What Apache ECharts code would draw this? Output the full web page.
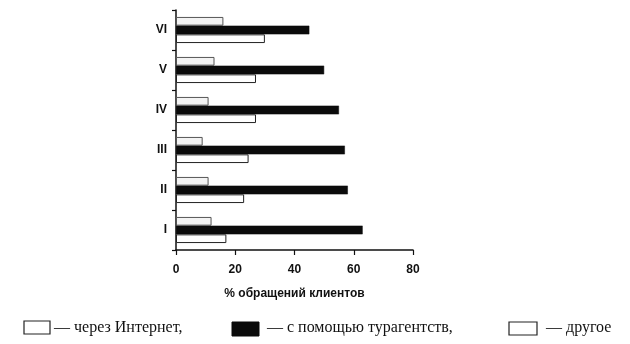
<!DOCTYPE html>
<html>
<head>
<meta charset="utf-8">
<script src="https://cdn.jsdelivr.net/npm/echarts@6/dist/echarts.min.js"></script>
<style>
  html, body { margin: 0; padding: 0; background: #fff; }
  #chart { width: 630px; height: 344px; }
</style>
</head>
<body>
<div id="chart"></div>
<script>
// Groups of clients, bottom to top
const categories = ['I', 'II', 'III', 'IV', 'V', 'VI'];
// Share of client requests by channel, %
const internet = [12, 11, 9, 11, 13, 16];
const agencies = [63, 58, 57, 55, 50, 45];
const other = [17, 23, 24.5, 27, 27, 30];
const xTicks = [0, 20, 40, 60, 80];
const legendLabels = ['— через Интернет,', '— с помощью турагентств,', '— другое'];

const chart = echarts.init(document.getElementById('chart'));

const axisColor = '#111';
const sansBold = { fontFamily: 'Liberation Sans, Arial, sans-serif', fontWeight: 'bold', color: '#111' };
const serifFont = '16px "Liberation Serif", "Times New Roman", serif';

chart.setOption({
  animation: false,
  backgroundColor: '#fff',
  grid: { left: 176, right: 217, top: 10, bottom: 94 },
  xAxis: {
    type: 'value',
    min: xTicks[0],
    max: xTicks[xTicks.length - 1],
    interval: 20,
    splitLine: { show: false },
    axisLine: { show: true, lineStyle: { color: axisColor, width: 1.5 } },
    axisTick: { show: true, length: 5, lineStyle: { color: axisColor, width: 1.2 } },
    axisLabel: Object.assign({ fontSize: 12, margin: 14 }, sansBold),
    name: '% обращений клиентов',
    nameLocation: 'middle',
    nameGap: 38,
    nameTextStyle: Object.assign({ fontSize: 12 }, sansBold)
  },
  yAxis: {
    type: 'category',
    data: categories,
    axisLine: { show: true, lineStyle: { color: axisColor, width: 1.5 } },
    axisTick: { show: true, length: 4, lineStyle: { color: axisColor, width: 1.2 } },
    axisLabel: Object.assign({ fontSize: 12, margin: 9 }, sansBold)
  },
  series: [
    {
      name: 'через Интернет',
      type: 'bar',
      data: internet,
      barWidth: 8.7,
      barGap: '0%',
      itemStyle: { color: '#f3f3f3', borderColor: '#555', borderWidth: 1 }
    },
    {
      name: 'с помощью турагентств',
      type: 'bar',
      data: agencies,
      barWidth: 8.7,
      barGap: '0%',
      itemStyle: { color: '#0b0b0b', borderColor: '#0b0b0b', borderWidth: 0.5 }
    },
    {
      name: 'другое',
      type: 'bar',
      data: other,
      barWidth: 8.7,
      barGap: '0%',
      itemStyle: { color: '#ffffff', borderColor: '#222', borderWidth: 1 }
    }
  ],
  graphic: [
    { type: 'rect', shape: { x: 24, y: 321, width: 26, height: 13 }, style: { fill: '#fff', stroke: '#222', lineWidth: 1.2 } },
    { type: 'text', x: 54, y: 328, style: { text: legendLabels[0], font: serifFont, fill: '#111', verticalAlign: 'middle' } },
    { type: 'rect', shape: { x: 232, y: 322, width: 27, height: 14 }, style: { fill: '#0b0b0b', stroke: '#0b0b0b', lineWidth: 1 } },
    { type: 'text', x: 267, y: 328, style: { text: legendLabels[1], font: serifFont, fill: '#111', verticalAlign: 'middle' } },
    { type: 'rect', shape: { x: 509, y: 322, width: 28, height: 13 }, style: { fill: '#fff', stroke: '#222', lineWidth: 1.2 } },
    { type: 'text', x: 546, y: 328, style: { text: legendLabels[2], font: serifFont, fill: '#111', verticalAlign: 'middle' } }
  ]
});
</script>
</body>
</html>
